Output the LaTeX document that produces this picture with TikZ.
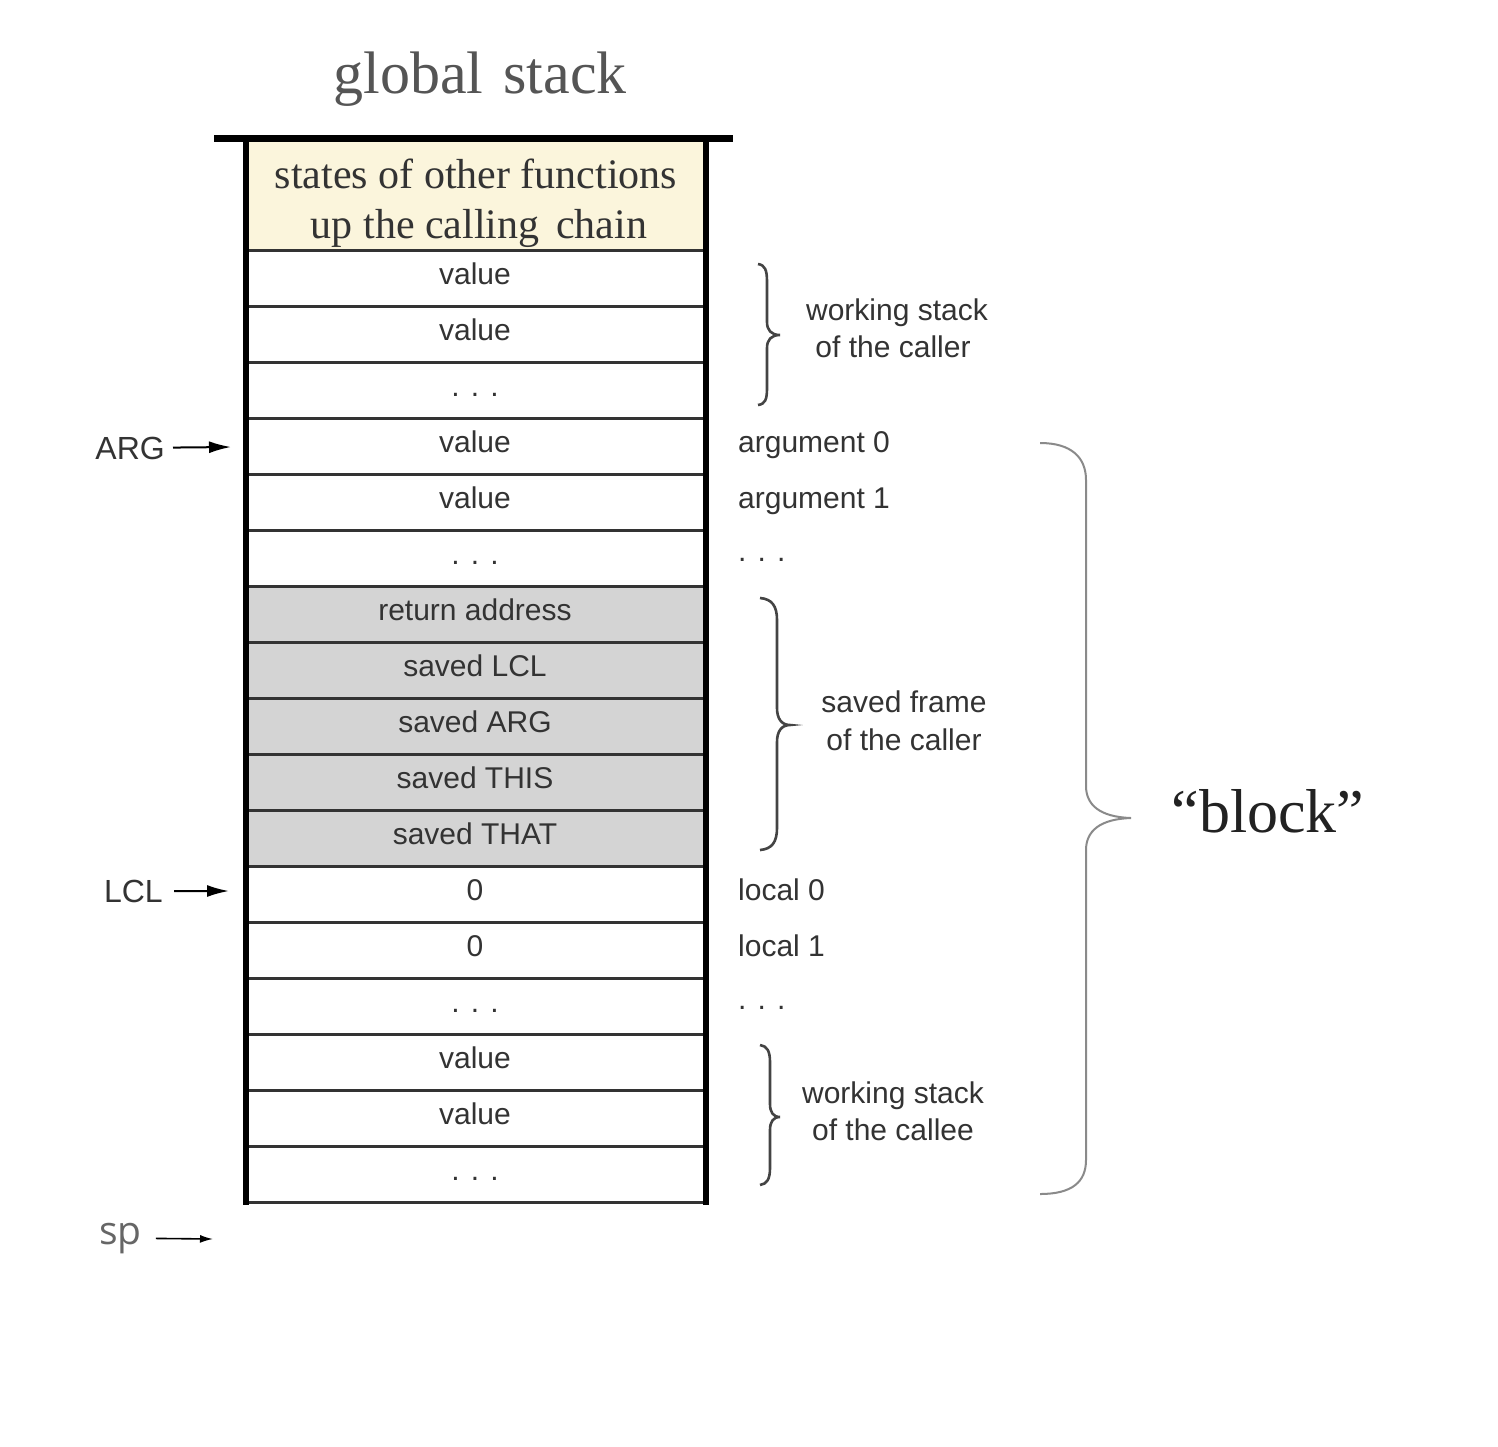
\documentclass[tikz,border=0pt]{standalone}
\usepackage{fontspec}
\setmainfont{Liberation Serif}
\setsansfont{Liberation Sans}
\newfontfamily\spfont{Open Sans}
\usetikzlibrary{arrows.meta}
\definecolor{ink}{HTML}{333333}
\definecolor{titlegray}{HTML}{555555}
\definecolor{spgray}{HTML}{666666}
\definecolor{blockink}{HTML}{222222}
\definecolor{cream}{HTML}{FBF5DC}
\definecolor{framegray}{HTML}{D4D4D4}
\definecolor{bracegray}{HTML}{8A8A8A}
\definecolor{smallbrace}{HTML}{444444}
\begin{document}
\begin{tikzpicture}[x=1pt,y=-1pt,
  cell/.style={anchor=base, inner sep=0pt, font=\sffamily\fontsize{30}{36}\selectfont, text=ink},
  side/.style={cell, anchor=base west},
  bracelabel/.style={cell},
  ptrlabel/.style={anchor=base east, inner sep=0pt, font=\sffamily\fontsize{32}{38}\selectfont, text=ink},
  ptr/.style={-{Latex[length=22pt,width=12pt]}, line width=2pt, draw=black},
  ptrsmall/.style={-{Latex[length=13pt,width=8pt]}, line width=1.6pt, draw=black},
  rowline/.style={line width=3pt, draw=ink},
  wall/.style={line width=6pt, draw=black},
  sbrace/.style={line width=2.6pt, draw=smallbrace},
  bbrace/.style={line width=2pt, draw=bracegray}]
\useasboundingbox (0,0) rectangle (1498,1446);
\fill[white] (0,0) rectangle (1498,1446);

% title
\node[anchor=base, inner sep=0pt, font=\fontsize{60}{70}\selectfont, text=titlegray] (title) at (480,93) {global\hspace{20pt}stack};

% fills
\fill[cream] (246,141) rectangle (706,250);
\fill[framegray] (246,586) rectangle (706,866);

% row lines
\foreach \i in {0,...,17}
  \draw[rowline] (246,{250+56*\i}) -- (706,{250+56*\i});

% walls and top bar
\draw[wall] (246,138) -- (246,1205);
\draw[wall] (706,138) -- (706,1205);
\draw[line width=7pt, draw=black] (214,138) -- (733,138);

% yellow text
\node[anchor=base, inner sep=0pt, font=\fontsize{42}{50}\selectfont, text=ink] (y1) at (476,188) {states of other functions};
\node[anchor=base, inner sep=0pt, font=\fontsize{42}{50}\selectfont, text=ink] (y2) at (479,238) {up the calling\hspace{6pt} chain};

% cell texts
\foreach \t [count=\i from 0] in {value,value,{. . .},value,value,{. . .},return address,saved LCL,saved ARG,saved THIS,saved THAT,0,0,{. . .},value,value,{. . .}}
  \node[cell] (c\i) at (475,{250+56*\i+34}) {\t};

% right side labels
\node[side] (arg0) at (738,{250+56*3+34}) {argument 0};
\node[side] (arg1) at (738,{250+56*4+34}) {argument 1};
\node[side] (argd) at (738,{250+56*5+31}) {. . .};
\node[side] (loc0) at (738,{250+56*11+34}) {local 0};
\node[side] (loc1) at (738,{250+56*12+34}) {local 1};
\node[side] (locd) at (738,{250+56*13+31}) {. . .};

% small braces
\draw[sbrace] (758,264) .. controls (765,265) and (767,270) .. (767,282) -- (767,322)
  .. controls (767,330) and (771,335) .. (780,335)
  .. controls (771,335) and (767,340) .. (767,348) -- (767,388)
  .. controls (767,400) and (765,404) .. (758,405);
\draw[sbrace] (760,598) .. controls (772,599) and (777,606) .. (777,620) -- (777,708)
  .. controls (777,718) and (781,725) .. (790,725)
  .. controls (781,725) and (777,732) .. (777,742) -- (777,828)
  .. controls (777,842) and (772,849) .. (760,850);
\draw[sbrace] (760,1045) .. controls (767,1046) and (770,1051) .. (770,1062) -- (770,1104)
  .. controls (770,1112) and (773,1117) .. (780,1117)
  .. controls (773,1117) and (770,1122) .. (770,1130) -- (770,1168)
  .. controls (770,1179) and (767,1184) .. (760,1185);

% brace labels
\node[bracelabel] (wc1) at (897,320) {working stack};
\node[bracelabel] (wc2) at (893,357) {of the caller};
\node[bracelabel] (sf1) at (904,712) {saved frame};
\node[bracelabel] (sf2) at (904,750) {of the caller};
\node[bracelabel] (we1) at (893,1103) {working stack};
\node[bracelabel] (we2) at (893,1140) {of the callee};

% big brace
\draw[bbrace] (1040,443) .. controls (1072,443) and (1086,458) .. (1086,480) -- (1086,786)
  .. controls (1086,805) and (1100,817) .. (1131,818)
  .. controls (1100,819) and (1086,831) .. (1086,850) -- (1086,1160)
  .. controls (1086,1182) and (1072,1194) .. (1040,1194);
\node[anchor=base, inner sep=0pt, font=\fontsize{62}{70}\selectfont, text=blockink] (block) at (1268,832) {“block”};

% pointers
\node[ptrlabel] (argl) at (165,459) {ARG};
\coordinate (argp) at (231,447);
\draw[ptr, shorten <=8pt] (argl) -- (argp);
\node[ptrlabel] (lcll) at (163,902) {LCL};
\coordinate (lclp) at (229,891);
\draw[ptr, shorten <=11pt] (lcll) -- (lclp);
\node[anchor=base west, inner sep=0pt, font=\spfont\fontsize{39}{44}\selectfont, text=spgray] (spl) at (99,1244) {sp};
\coordinate (spp) at (213,1239);
\draw[ptrsmall, shorten <=14pt] (spl) -- (spp);
\end{tikzpicture}
\end{document}
